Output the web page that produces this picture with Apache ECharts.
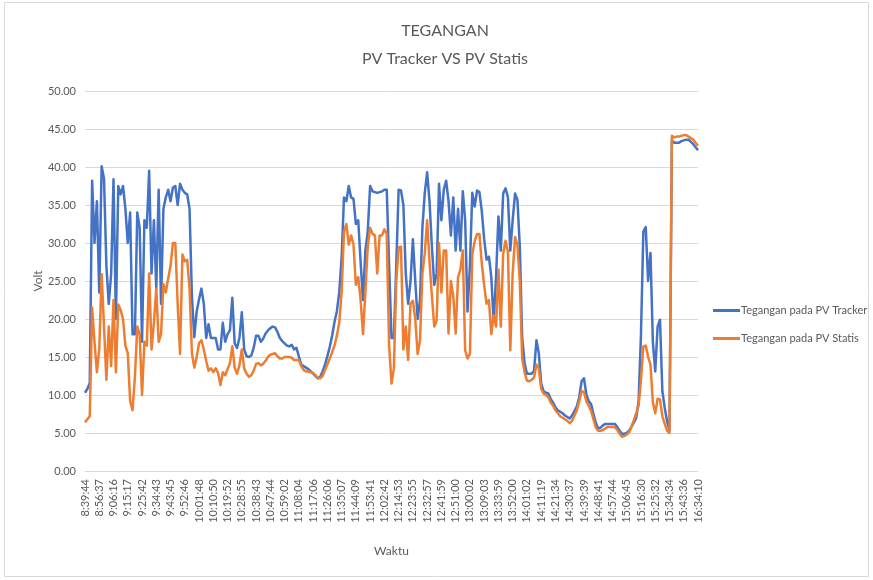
<!DOCTYPE html>
<html>
<head>
<meta charset="utf-8">
<script src="https://cdn.jsdelivr.net/npm/echarts@6/dist/echarts.min.js"></script>
<style>
  html, body { margin: 0; padding: 0; background: #fff; }
  #chart { width: 873px; height: 580px; }
</style>
</head>
<body>
<div id="chart"></div>
<script>
// tick labels shown on the time axis (one every 6 samples)
const timeLabels = [
  '8:39:44', '8:56:37', '9:06:16', '9:15:17', '9:25:42', '9:34:43', '9:43:45', '9:52:46',
  '10:01:48', '10:10:50', '10:19:52', '10:28:55', '10:38:43', '10:47:44', '10:59:02',
  '11:08:04', '11:17:06', '11:26:06', '11:35:07', '11:44:09', '11:53:41', '12:02:42',
  '12:14:53', '12:23:55', '12:32:57', '12:41:59', '12:51:00', '13:00:02', '13:09:03',
  '13:33:59', '13:52:00', '14:01:02', '14:11:19', '14:21:34', '14:30:37', '14:39:39',
  '14:48:41', '14:57:44', '15:06:45', '15:16:30', '15:25:32', '15:34:34', '15:43:36',
  '16:34:10'
];
const samplesPerLabel = 6;

const trackerVolt = [
  10.3, 10.8, 11.6, 38.2, 30, 35.5, 23.5, 40.1, 38.5, 27,
  22, 25.9, 38.4, 20, 37.5, 36.4, 37.5, 34.5, 30, 34,
  18, 18, 34, 32, 17, 33, 32, 39.5, 26, 33,
  24, 37, 22, 34.5, 36, 37, 35.5, 37.3, 37.5, 35,
  37.8, 37, 36.6, 36.4, 34.5, 23, 17.6, 21, 22.6, 24,
  22, 17.5, 19.3, 17.5, 17.5, 17.5, 16, 16, 19.5, 17,
  18, 18.5, 22.8, 16.8, 16.2, 17.5, 20.9, 16, 15.1, 15,
  15.2, 16.2, 17.8, 17.8, 17, 17.4, 18.1, 18.5, 18.8, 19,
  18.9, 18.3, 17.5, 17.1, 16.8, 16.5, 16.4, 16.6, 16, 16.2,
  15.1, 14, 13.8, 13.6, 13.4, 13.1, 12.8, 12.5, 12.2, 12.4,
  13.1, 14, 15.1, 16.3, 17.8, 19.6, 21, 23.5, 28, 36,
  35.5, 37.5, 36, 35.8, 32.5, 33, 27.5, 22.5, 29, 31.5,
  37.5, 36.8, 36.7, 36.6, 36.7, 36.8, 37, 37, 27, 17.5,
  17.5, 27, 37, 36.9, 35, 26, 22, 25, 30.5, 25,
  20, 22.5, 32, 36.6, 39.3, 35.5, 29.5, 24.5, 26, 37.8,
  33, 37, 38.2, 35.5, 31, 36, 29, 34.5, 29, 36.8,
  33, 21, 27, 36.6, 34.8, 36.9, 36.7, 34.2, 30.5, 27.8,
  28.2, 25.5, 19.6, 25.5, 33.5, 29, 36.5, 37.2, 36, 29,
  33, 36.5, 35.7, 29.5, 17.6, 14.2, 12.8, 12.8, 12.8, 13.2,
  17.2, 15.5, 11.5, 10.5, 10.3, 10.2, 9.5, 9.0, 8.4, 8.0,
  7.8, 7.6, 7.3, 7.1, 6.9, 7.3, 7.9, 8.5, 9.7, 11.8,
  12.2, 10.1, 9.2, 8.8, 7.5, 6.3, 5.6, 5.7, 6.0, 6.2,
  6.2, 6.2, 6.2, 6.2, 5.8, 5.3, 4.9, 4.9, 5.0, 5.3,
  5.8, 6.4, 7.0, 9.2, 18, 31.5, 32.1, 25, 28.7, 17,
  13.1, 19, 19.9, 10.5, 8.3, 6.5, 5.4, 43.5, 43.2, 43.2,
  43.2, 43.4, 43.5, 43.6, 43.6, 43.3, 43.0, 42.6, 42.2
];

const statisVolt = [
  6.4, 6.8, 7.2, 21.5, 17, 13, 16, 25.9, 19, 12,
  19, 13.8, 22.5, 13, 21.9, 21.2, 20, 16.5, 15.5, 9.2,
  8, 12.3, 19, 18, 10, 17, 16.5, 26, 16, 19.5,
  24, 17, 18, 24.6, 23.5, 25.3, 27, 30, 30, 22,
  15.4, 28.5, 27.6, 27.8, 24, 15.5, 13.6, 15, 16.8, 17.2,
  16, 14.5, 13.2, 13.5, 13, 13.5, 12.9, 11.3, 13, 12.6,
  13.4, 14.2, 16.4, 13.6, 12.8, 13.9, 16, 13.5, 12.8, 12.4,
  12.6, 13.2, 14.1, 14.2, 13.9, 14.1, 14.5, 15, 15.3, 15.4,
  15.5, 15.1, 14.8, 14.8, 15, 15, 15, 14.9, 14.6, 14.6,
  14.6, 13.8, 13.3, 13.1, 13.1, 13, 12.9, 12.6, 12.2, 12.2,
  12.5, 13.3, 14, 14.8, 15.6, 16.5, 17.8, 19.5, 23.5, 31.5,
  32.5, 29.8, 31, 29.8, 24.5, 25.5, 22.5, 18, 23.5, 29.5,
  32, 31.2, 31, 26, 31, 31, 31.8, 31.2, 16.5, 11.5,
  13.5, 25, 29.4, 29.5, 16, 19, 14.6, 22, 22.4, 20,
  15.4, 17.2, 26, 28.6, 33, 27.5, 23, 19, 19.8, 30,
  23.5, 29, 29, 18.1, 25, 23, 18.1, 25.5, 26.5, 29,
  15.9, 14.8, 15.4, 28.5, 30.2, 31.2, 31.2, 27.3, 24.5, 22,
  22.5, 18, 20.5, 19, 26.5, 19, 28.6, 30.3, 28.8, 15.9,
  26, 30.8, 29.7, 25, 14.8, 13, 11.9, 11.8, 12, 12.3,
  14, 13.5, 10.8, 10.2, 10, 9.7, 9, 8.6, 8.0, 7.6,
  7.2, 7.0, 6.8, 6.6, 6.3, 6.6, 7.3, 8.0, 9.2, 10.5,
  10.4, 9.2, 8.6, 7.9, 6.8, 5.7, 5.3, 5.3, 5.4, 5.6,
  5.8, 5.8, 5.8, 5.8, 5.4, 4.9, 4.5, 4.6, 4.8, 5.1,
  5.8, 6.7, 7.6, 8.6, 12, 16.4, 16.5, 15, 14, 9,
  7.6, 9.5, 9.4, 7.2, 6.2, 5.3, 5.0, 44.1, 43.9, 44.0,
  44.0, 44.1, 44.2, 44.2, 44.0, 43.8, 43.6, 43.2, 42.8
];

// one category per sample, label only on every 6th
const categories = trackerVolt.map((v, i) =>
  i % samplesPerLabel === 0 ? (timeLabels[i / samplesPerLabel] || '') : ''
);

const textColor = '#595959';
const gridColor = '#d9d9d9';
const fontFamily = 'Lato, "Open Sans", sans-serif';

const chart = echarts.init(document.getElementById('chart'), null, { renderer: 'canvas' });

const option = {
  backgroundColor: '#fff',
  animation: false,
  color: ['#4472c4', '#ed7d31'],
  textStyle: { fontFamily: fontFamily },
  graphic: [
    {
      type: 'rect',
      shape: { x: 4.5, y: 2.5, width: 864, height: 574 },
      style: { fill: 'none', stroke: gridColor, lineWidth: 1 },
      silent: true,
    },
  ],
  title: {
    text: 'TEGANGAN\nPV Tracker VS PV Statis',
    left: 445,
    top: 17,
    padding: 0,
    textAlign: 'center',
    textStyle: {
      color: textColor,
      fontSize: 16,
      fontWeight: 'normal',
      lineHeight: 28,
      fontFamily: fontFamily,
    },
  },
  legend: {
    orient: 'vertical',
    left: 713,
    top: 305,
    padding: 0,
    itemWidth: 27,
    itemHeight: 3,
    itemGap: 17,
    icon: 'rect',
    textStyle: {
      color: textColor,
      fontSize: 11,
      padding: [0, 0, 0, -4],
    },
    data: ['Tegangan pada PV Tracker', 'Tegangan pada PV Statis'],
  },
  grid: {
    left: 85,
    right: 175,
    top: 91,
    bottom: 109,
    containLabel: false,
  },
  xAxis: {
    type: 'category',
    data: categories,
    boundaryGap: false,
    name: 'Waktu',
    nameLocation: 'middle',
    nameGap: 74,
    nameMoveOverlap: false,
    nameTextStyle: { color: textColor, fontSize: 12 },
    axisLine: { lineStyle: { color: gridColor } },
    axisTick: { show: false },
    axisLabel: {
      interval: samplesPerLabel - 1,
      rotate: 90,
      margin: 8,
      color: textColor,
      fontSize: 11,
    },
    splitLine: { show: false },
  },
  yAxis: {
    type: 'value',
    min: 0,
    max: 50,
    interval: 5,
    name: 'Volt',
    nameLocation: 'middle',
    nameGap: 41,
    nameMoveOverlap: false,
    nameTextStyle: { color: textColor, fontSize: 12 },
    axisLine: { show: false },
    axisTick: { show: false },
    axisLabel: {
      color: textColor,
      fontSize: 11,
      margin: 9,
      formatter: (v) => v.toFixed(2),
    },
    splitLine: { lineStyle: { color: gridColor, width: 1 } },
  },
  series: [
    {
      name: 'Tegangan pada PV Tracker',
      type: 'line',
      data: trackerVolt,
      showSymbol: false,
      symbol: 'none',
      lineStyle: { width: 2.5, color: '#4472c4', join: 'round' },
    },
    {
      name: 'Tegangan pada PV Statis',
      type: 'line',
      data: statisVolt,
      showSymbol: false,
      symbol: 'none',
      lineStyle: { width: 2.5, color: '#ed7d31', join: 'round' },
    },
  ],
};

chart.setOption(option);
</script>
</body>
</html>
